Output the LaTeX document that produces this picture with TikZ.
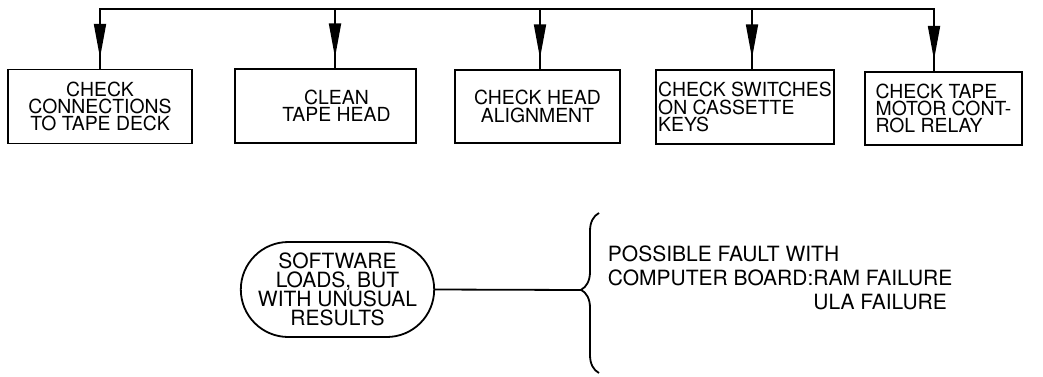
\documentclass[tikz,border=0pt]{standalone}
\usepackage{fontspec}
\setmainfont{TeX Gyre Heros}
\usetikzlibrary{arrows.meta,shapes.misc,decorations.markings,decorations.pathreplacing}

\begin{document}
\begin{tikzpicture}[x=0.5pt, y=-0.5pt, line width=0.9pt,
	every node/.style={font=\fontsize{9.7}{8.7}\selectfont},
	check/.style={draw, minimum height=37pt, inner sep=1pt, align=center},
	midarrow/.style={postaction={decorate}, decoration={markings, mark=at position 0.82 with {\arrow{Triangle[length=17pt,width=6pt]}}}}]
	\useasboundingbox (0,0) rectangle (1043,376);
	% check boxes
	\node[check, minimum width=92pt] (conn) at (100,106.5) {CHECK\\CONNECTIONS\\TO TAPE DECK};
	\node[check, minimum width=90.5pt] (clean) at (325.5,106) {\hspace*{11pt}CLEAN\\\hspace*{11pt}TAPE HEAD};
	\node[check, minimum width=82.5pt, minimum height=36.5pt] (align) at (537.5,106.5) {CHECK HEAD\\ALIGNMENT};
	\node[check, minimum width=88pt, align=left] (keys) at (745,107) {CHECK SWITCHES\\ON CASSETTE\\KEYS};
	\node[check, minimum width=78.5pt, minimum height=36.5pt, align=left] (relay) at (943.5,108.5) {CHECK TAPE\\MOTOR CONT-\\ROL RELAY};
	% bus and arrows
	\coordinate (b1) at (100,9);
	\coordinate (b2) at (335,9);
	\coordinate (b3) at (540,9);
	\coordinate (b4) at (752,9);
	\coordinate (b5) at (934,9);
	\draw[line cap=rect] (b1) -- (b5);
	\draw[midarrow] (b1) -- (conn.north -| b1);
	\draw[midarrow] (b2) -- (clean.north -| b2);
	\draw[midarrow] (b3) -- (align.north -| b3);
	\draw[midarrow] (b4) -- (keys.north -| b4);
	\draw[midarrow] (b5) -- (relay.north -| b5);
	% symptom and fault
	\node[draw, rounded rectangle, minimum width=92.5pt, minimum height=47.5pt, inner sep=0pt, align=center, font=\fontsize{10.5}{9.5}\selectfont] (soft) at (337.5,289.5) {SOFTWARE\\LOADS, BUT\\WITH UNUSUAL\\RESULTS};
	\coordinate (brbot) at (599,373);
	\coordinate (brtop) at (599,213);
	\coordinate (tip) at (581,290);
	\draw[decorate, decoration={brace, amplitude=9pt, aspect=0.52}] (brbot) -- (brtop);
	\draw (soft.east) -- (tip);
	\node[anchor=north west, inner sep=0pt, align=left, font=\fontsize{10.5}{12}\selectfont] (fault) at (607,245) {POSSIBLE FAULT WITH\\COMPUTER BOARD:RAM FAILURE\\\phantom{COMPUTER BOARD:}ULA FAILURE};
\end{tikzpicture}
\end{document}
